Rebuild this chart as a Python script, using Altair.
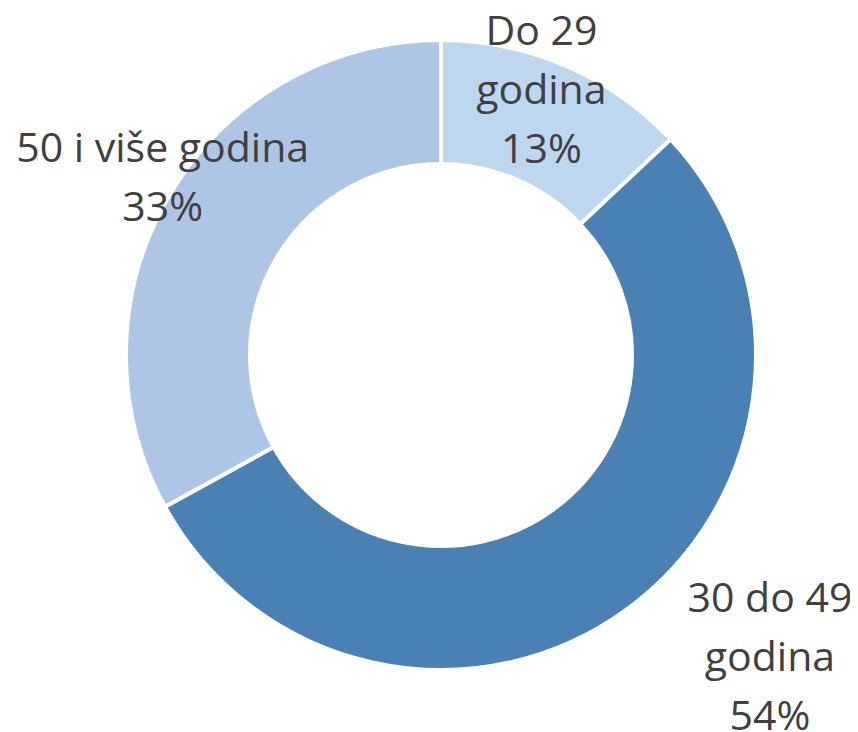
import math
import altair as alt
import pandas as pd

categories = ["Do 29 godina", "30 do 49 godina", "50 i više godina"]
values = [13, 54, 33]
label_names = ["Do 29\ngodina", "30 do 49\ngodina", "50 i više godina"]
colors = ["#BDD7EE", "#4A81B4", "#ADC6E6"]

df = pd.DataFrame({
    "category": categories,
    "value": values,
    "name": label_names,
    "idx": list(range(len(categories))),
})

CX, CY = 433, 347
R_OUT, R_IN = 315, 191

base = alt.Chart(df)

arcs = base.mark_arc(
    innerRadius=R_IN, outerRadius=R_OUT, stroke="white", strokeWidth=4,
    x=CX, y=CY,
).encode(
    theta=alt.Theta("value:Q", stack=True),
    order=alt.Order("idx:Q"),
    color=alt.Color("category:N", scale=alt.Scale(domain=categories, range=colors), legend=None),
)

lab_base = base.transform_window(
    cum="sum(value)", sort=[alt.SortField("idx")], frame=[None, 0]
).transform_calculate(
    mid="datum.cum - datum.value / 2",
    label="datum.name + '\\n' + datum.value + '%'",
)

label_style = {
    categories[0]: dict(radius=283, dx=-12, dy=-62),
    categories[1]: dict(radius=449, dx=65, dy=-118),
    categories[2]: dict(radius=328, dx=4, dy=-38),
}

layers = [arcs]
for cat in categories:
    st = label_style[cat]
    layers.append(
        lab_base.transform_filter(alt.datum.category == cat).mark_text(
            font="Open Sans", fontSize=41, color="#404040", lineBreak="\n",
            lineHeight=59, align="center", baseline="middle",
            x=CX, y=CY, radius=st["radius"], dx=st["dx"], dy=st["dy"],
        ).encode(
            theta=alt.Theta("mid:Q", stack=False,
                            scale=alt.Scale(domain=[0, 100], range=[0, 2 * math.pi])),
            text="label:N",
        )
    )

chart = alt.layer(*layers).properties(
    width=842, height=724, autosize=alt.AutoSizeParams(type="none"), padding=0,
).configure_view(stroke=None)

chart.save("out.html", embed_options={"renderer": "svg", "actions": False})
